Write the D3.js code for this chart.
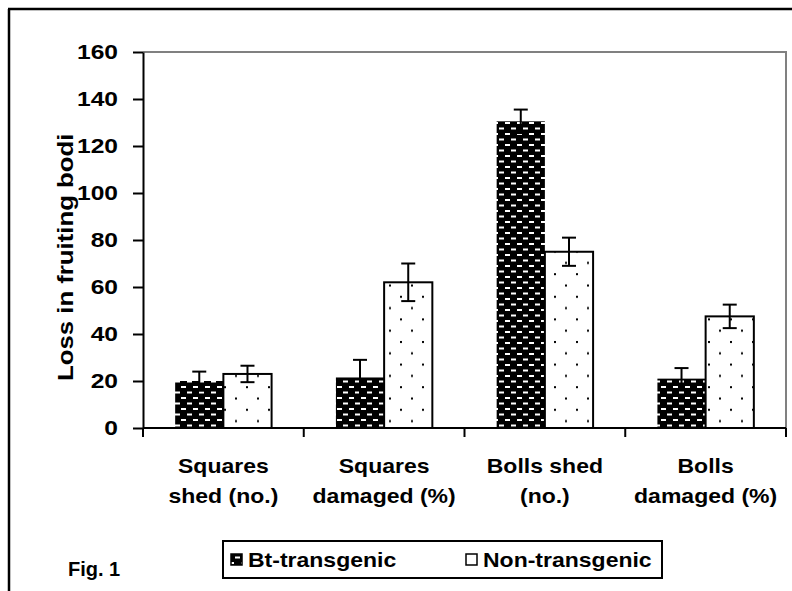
<!DOCTYPE html>
<html>
<head>
<meta charset="utf-8">
<script src="https://cdn.jsdelivr.net/npm/d3@7"></script>
<style>
  body { margin: 0; background: #fff; }
  text { font-family: "Liberation Sans", Arial, sans-serif; font-weight: bold; fill: #000; }
</style>
</head>
<body>
<script>
// chart data
var categories = [["Squares", "shed (no.)"], ["Squares", "damaged (%)"], ["Bolls shed", "(no.)"], ["Bolls", "damaged (%)"]];
var catKeys = ["sq_shed", "sq_dam", "bo_shed", "bo_dam"];
var series = ["Bt-transgenic", "Non-transgenic"];
var btValues = [20, 21.5, 130.5, 21];
var btErrors = [4, 7.5, 5, 4.5];
var nonValues = [23, 62, 75, 47.5];
var nonErrors = [3.5, 8, 6, 5];
var yTicks = [0, 20, 40, 60, 80, 100, 120, 140, 160];

var W = 792, H = 591;
var plot = {left: 143, right: 786, top: 52, bottom: 428};
var stretch = 1.15; // the original text looks horizontally stretched

var svg = d3.select("body").append("svg")
  .attr("width", W)
  .attr("height", H);

var defs = svg.append("defs");

// brick-like pattern for Bt bars
var brick = defs.append("pattern")
  .attr("id", "brick")
  .attr("patternUnits", "userSpaceOnUse")
  .attr("width", 12).attr("height", 11);
brick.append("rect").attr("width", 12).attr("height", 11).attr("fill", "#000");
brick.append("rect").attr("x", 1).attr("y", 1).attr("width", 5).attr("height", 2).attr("fill", "#fff");
brick.append("rect").attr("x", 7).attr("y", 6.5).attr("width", 5).attr("height", 2).attr("fill", "#fff");

// sparse dot pattern for non-transgenic bars
var dots = defs.append("pattern")
  .attr("id", "dots")
  .attr("patternUnits", "userSpaceOnUse")
  .attr("width", 22).attr("height", 22.6);
dots.append("rect").attr("width", 22).attr("height", 22.6).attr("fill", "#fff");
dots.append("rect").attr("x", 4).attr("y", 2).attr("width", 2).attr("height", 2).attr("fill", "#000");
dots.append("rect").attr("x", 15).attr("y", 13.3).attr("width", 2).attr("height", 2).attr("fill", "#000");

// outer frame (top and left only visible)
svg.append("line").attr("x1", 8).attr("x2", W).attr("y1", 9).attr("y2", 9)
  .attr("stroke", "#000").attr("stroke-width", 2.5);
svg.append("line").attr("x1", 9).attr("x2", 9).attr("y1", 9).attr("y2", H)
  .attr("stroke", "#000").attr("stroke-width", 2.5);

var x = d3.scaleBand()
  .domain(catKeys)
  .range([plot.left, plot.right]);

var xSub = d3.scaleBand()
  .domain(series)
  .range([0, x.bandwidth()])
  .paddingOuter(0.667);

var y = d3.scaleLinear()
  .domain([0, 160])
  .range([plot.bottom, plot.top]);

// plot area border: top & right in grey
svg.append("path")
  .attr("d", "M" + plot.left + "," + y(160) + "H" + plot.right + "V" + y(0))
  .attr("fill", "none")
  .attr("stroke", "#808080")
  .attr("stroke-width", 2);

// bars
var rows = [
  {name: series[0], values: btValues, errors: btErrors, fill: "url(#brick)", stroke: "none"},
  {name: series[1], values: nonValues, errors: nonErrors, fill: "url(#dots)", stroke: "#000"}
];

rows.forEach(function(s) {
  var g = svg.append("g");
  g.selectAll("rect")
    .data(catKeys)
    .enter()
    .append("rect")
    .attr("x", function(d) { return x(d) + xSub(s.name); })
    .attr("y", function(d, i) { return y(s.values[i]); })
    .attr("width", xSub.bandwidth())
    .attr("height", function(d, i) { return y(0) - y(s.values[i]); })
    .attr("fill", s.fill)
    .attr("stroke", s.stroke)
    .attr("stroke-width", 2);

  // error bars
  var eb = g.selectAll(".err")
    .data(catKeys)
    .enter()
    .append("g")
    .attr("class", "err")
    .attr("stroke", "#000")
    .attr("stroke-width", 2);
  var cx = function(d) { return x(d) + xSub(s.name) + xSub.bandwidth() / 2; };
  eb.append("line")
    .attr("x1", cx).attr("x2", cx)
    .attr("y1", function(d, i) { return y(s.values[i] + s.errors[i]); })
    .attr("y2", function(d, i) { return y(s.values[i] - s.errors[i]); });
  eb.append("line")
    .attr("x1", function(d) { return cx(d) - 7; }).attr("x2", function(d) { return cx(d) + 7; })
    .attr("y1", function(d, i) { return y(s.values[i] + s.errors[i]); })
    .attr("y2", function(d, i) { return y(s.values[i] + s.errors[i]); });
  eb.append("line")
    .attr("x1", function(d) { return cx(d) - 7; }).attr("x2", function(d) { return cx(d) + 7; })
    .attr("y1", function(d, i) { return y(s.values[i] - s.errors[i]); })
    .attr("y2", function(d, i) { return y(s.values[i] - s.errors[i]); });
});

// y axis
var yAxis = svg.append("g")
  .attr("transform", "translate(" + plot.left + ",0)")
  .call(d3.axisLeft(y).tickValues(yTicks).tickSize(10).tickSizeOuter(0));
yAxis.select(".domain").attr("stroke", "#000").attr("stroke-width", 2);
yAxis.selectAll(".tick line").attr("stroke", "#000").attr("stroke-width", 2);
yAxis.selectAll(".tick text")
  .attr("x", -25 / 1.2)
  .attr("transform", "scale(1.2,1)")
  .attr("font-size", 20.5)
  .style("font-family", "'Liberation Sans', Arial, sans-serif")
  .style("font-weight", "bold")
  .attr("fill", "#000");

// x axis with ticks at category boundaries
var xAxis = svg.append("g");
xAxis.append("line")
  .attr("x1", plot.left).attr("x2", plot.right)
  .attr("y1", y(0)).attr("y2", y(0))
  .attr("stroke", "#000").attr("stroke-width", 2);
var bounds = catKeys.map(function(d) { return x(d); }).concat([plot.right]);
xAxis.selectAll(".xt")
  .data(bounds)
  .enter()
  .append("line")
  .attr("x1", function(d) { return d; }).attr("x2", function(d) { return d; })
  .attr("y1", y(0)).attr("y2", y(0) + 9)
  .attr("stroke", "#000").attr("stroke-width", 2);

var labels = xAxis.selectAll(".xl")
  .data(catKeys)
  .enter()
  .append("text")
  .attr("text-anchor", "middle")
  .attr("font-size", 20)
  .attr("transform", function(d) {
    return "translate(" + (x(d) + x.bandwidth() / 2) + ",473) scale(" + stretch + ",1)";
  });
labels.append("tspan").attr("x", 0).attr("y", 0).text(function(d, i) { return categories[i][0]; });
labels.append("tspan").attr("x", 0).attr("y", 30).text(function(d, i) { return categories[i][1]; });

// y title (clipped in the original)
svg.append("text")
  .attr("transform", "translate(73,381) rotate(-90) scale(1.12,1)")
  .attr("font-size", 23)
  .text("Loss in fruiting bodi");

// Fig label
svg.append("text").attr("x", 68).attr("y", 576).attr("font-size", 20).text("Fig. 1");

// legend
var legend = svg.append("g");
legend.append("rect")
  .attr("x", 223).attr("y", 541).attr("width", 439).attr("height", 37)
  .attr("fill", "#fff").attr("stroke", "#000").attr("stroke-width", 2);
var legX = [231, 466];
var legFill = ["url(#brick)", "#fff"];
series.forEach(function(s, i) {
  legend.append("rect")
    .attr("x", legX[i]).attr("y", 554).attr("width", 11).attr("height", 11)
    .attr("fill", legFill[i]).attr("stroke", "#000").attr("stroke-width", 1.5);
  legend.append("text")
    .attr("transform", "translate(" + (legX[i] + 17) + ",567) scale(1.15,1)")
    .attr("font-size", 20)
    .text(s);
});
</script>
</body>
</html>
